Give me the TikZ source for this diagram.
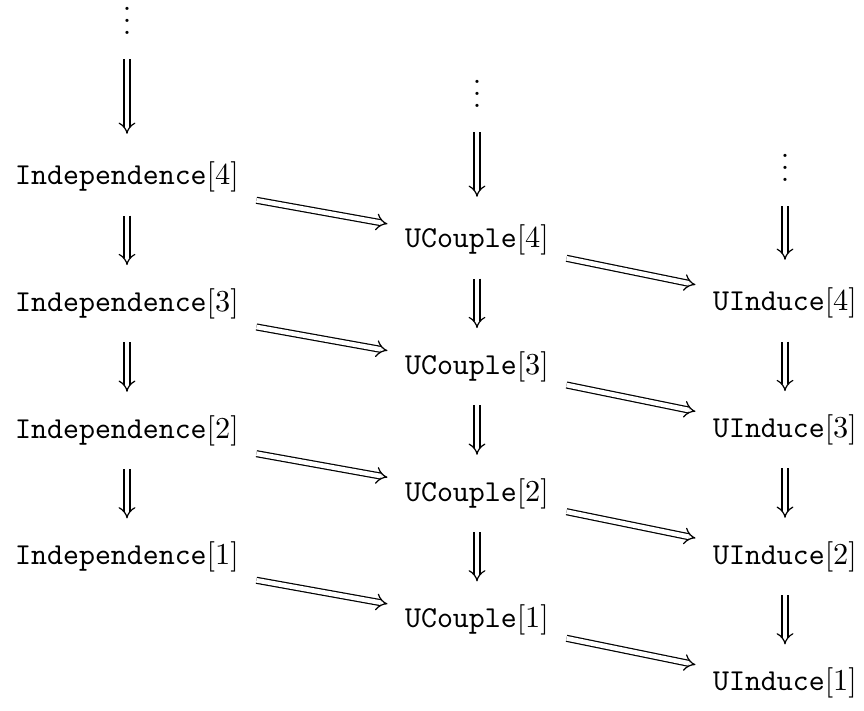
\documentclass[tikz,border=0pt]{standalone}
\usetikzlibrary{arrows.meta}

\begin{document}
\begin{tikzpicture}[x=0.329pt, y=-0.329pt,
  box/.style={inner xsep=5.6pt, inner ysep=3pt},
  dots/.style={inner sep=0pt, anchor=south},
  imp/.style={double, double equal sign distance, -{Implies}},
  down/.style={imp, shorten <=4.5pt, shorten >=4.5pt},
  top/.style={imp, shorten <=8pt, shorten >=6pt}]
\useasboundingbox (0,0) rectangle (864,711);
% three chains
\node[dots] (d1) at (127,35) {$\vdots$};
\node[dots] (d2) at (477,108) {$\vdots$};
\node[dots] (d3) at (785,182) {$\vdots$};
\node[box] (i4) at (127,177) {\texttt{Independence}$[4]$};
\node[box] (i3) at (127,303.7) {\texttt{Independence}$[3]$};
\node[box] (i2) at (127,430.4) {\texttt{Independence}$[2]$};
\node[box] (i1) at (127,557) {\texttt{Independence}$[1]$};
\node[box] (c4) at (477,240) {\texttt{UCouple}$[4]$};
\node[box] (c3) at (477,366.7) {\texttt{UCouple}$[3]$};
\node[box] (c2) at (477,493.4) {\texttt{UCouple}$[2]$};
\node[box] (c1) at (477,620) {\texttt{UCouple}$[1]$};
\node[box] (u4) at (785,303) {\texttt{UInduce}$[4]$};
\node[box] (u3) at (785,429.7) {\texttt{UInduce}$[3]$};
\node[box] (u2) at (785,556.4) {\texttt{UInduce}$[2]$};
\node[box] (u1) at (785,683) {\texttt{UInduce}$[1]$};
% downward implications
\draw[top] (d1) -- (i4);
\draw[top] (d2) -- (c4);
\draw[top] (d3) -- (u4);
\draw[down] (i4) -- (i3);
\draw[down] (i3) -- (i2);
\draw[down] (i2) -- (i1);
\draw[down] (c4) -- (c3);
\draw[down] (c3) -- (c2);
\draw[down] (c2) -- (c1);
\draw[down] (u4) -- (u3);
\draw[down] (u3) -- (u2);
\draw[down] (u2) -- (u1);
% across
\draw[imp] (i4) -- (c4);
\draw[imp] (i3) -- (c3);
\draw[imp] (i2) -- (c2);
\draw[imp] (i1) -- (c1);
\draw[imp] (c4) -- (u4);
\draw[imp] (c3) -- (u3);
\draw[imp] (c2) -- (u2);
\draw[imp] (c1) -- (u1);
\end{tikzpicture}
\end{document}
